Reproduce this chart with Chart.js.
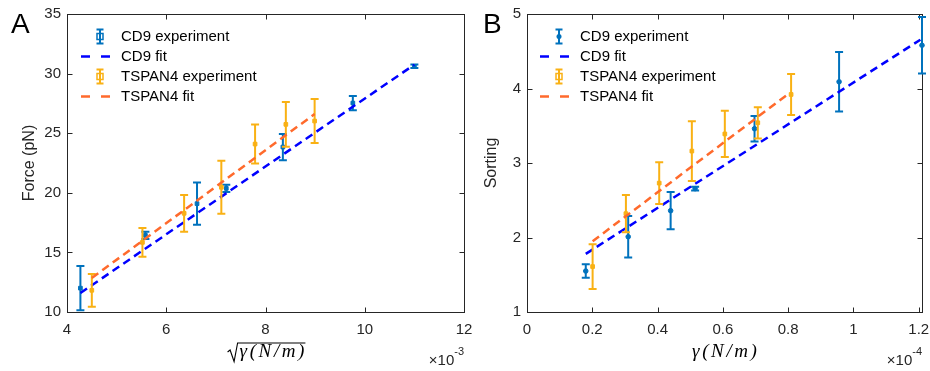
<!DOCTYPE html>
<html>
<head>
<meta charset="utf-8">
<script src="https://cdn.jsdelivr.net/npm/chart.js@4.4.0/dist/chart.umd.min.js"></script>
<style>
  html, body { margin: 0; padding: 0; background: #fff; }
  #wrap { position: relative; width: 930px; height: 371px; overflow: hidden; }
  canvas { position: absolute; top: 0; }
  #chartA { left: 0; }
  #chartB { left: 465px; }
  .tag { position: absolute; font: 28px "Liberation Sans", Arial, sans-serif; line-height: 28px; color: #000; }
</style>
</head>
<body>
<div id="wrap">
  <canvas id="chartA" width="480" height="371"></canvas>
  <canvas id="chartB" width="465" height="371"></canvas>
  <div class="tag" style="left:11px;top:10px">A</div>
  <div class="tag" style="left:483px;top:10px">B</div>
</div>
<script>
// --- Panel A: force vs sqrt(gamma), x in units of 1e-3 ---
const forceXTicks = [4, 6, 8, 10, 12];
const forceYTicks = [10, 15, 20, 25, 30, 35];
const cd9ForceX = [4.27, 5.58, 6.62, 7.21, 8.35, 9.76, 11.0];
const cd9ForceY = [12.0, 16.43, 19.09, 20.37, 23.84, 27.53, 30.61];
const cd9ForceErr = [1.85, 0.3, 1.77, 0.3, 1.1, 0.6, 0.15];
const tspanForceX = [4.50, 5.52, 6.36, 7.11, 7.79, 8.41, 8.99];
const tspanForceY = [11.82, 15.84, 18.28, 20.46, 24.09, 25.74, 26.02];
const tspanForceErr = [1.37, 1.2, 1.54, 2.22, 1.64, 1.87, 1.85];
const cd9ForceFitX = [4.27, 11.0];
const cd9ForceFitY = [11.59, 30.75];
const tspanForceFitX = [4.50, 8.99];
const tspanForceFitY = [12.85, 26.61];

// --- Panel B: sorting vs gamma, x in units of 1e-4 ---
const sortXTicks = [0, 0.2, 0.4, 0.6, 0.8, 1, 1.2];
const sortYTicks = [1, 2, 3, 4, 5];
const cd9SortX = [0.180, 0.310, 0.440, 0.515, 0.697, 0.956, 1.21];
const cd9SortY = [1.55, 2.01, 2.36, 2.656, 3.46, 4.09, 4.58];
const cd9SortErr = [0.09, 0.28, 0.25, 0.025, 0.17, 0.40, 0.38];
const tspanSortX = [0.201, 0.303, 0.405, 0.505, 0.606, 0.707, 0.809];
const tspanSortY = [1.61, 2.32, 2.73, 3.16, 3.39, 3.54, 3.92];
const tspanSortErr = [0.30, 0.25, 0.28, 0.40, 0.31, 0.21, 0.275];
const cd9SortFitX = [0.18, 1.205];
const cd9SortFitY = [1.78, 4.655];
const tspanSortFitX = [0.201, 0.80];
const tspanSortFitY = [1.95, 3.926];

const legendLabels = ['CD9 experiment', 'CD9 fit', 'TSPAN4 experiment', 'TSPAN4 fit'];

const CD9_BLUE = '#0072BD';
const TSPAN_GOLD = '#F9B114';
const FIT_BLUE = '#0000FF';
const FIT_ORANGE = '#FF6A2C';
const AXIS_GREY = '#262626';
const SANS = '"Liberation Sans", Arial, sans-serif';

const pts = (xs, ys) => xs.map((x, i) => ({ x, y: ys[i] }));

// error bars, box with inward ticks, legend and the latex-ish x title
const matlabLook = {
    id: 'matlabLook',
    beforeDatasetsDraw(chart) {
        // box + inward ticks on all four sides, under the data like the original
        const { ctx, chartArea: a } = chart;
        const xs = chart.scales.x, ys = chart.scales.y;
        ctx.save();
        ctx.strokeStyle = AXIS_GREY;
        ctx.lineWidth = 1;
        const L = Math.round(a.left) + 0.5, R = Math.round(a.right) + 0.5;
        const T = Math.round(a.top) + 0.5, B = Math.round(a.bottom) + 0.5;
        ctx.strokeRect(L, T, R - L, B - T);
        ctx.beginPath();
        xs.ticks.forEach(t => {
            const px = Math.round(xs.getPixelForValue(t.value)) + 0.5;
            ctx.moveTo(px, B); ctx.lineTo(px, B - 5);
            ctx.moveTo(px, T); ctx.lineTo(px, T + 5);
        });
        ys.ticks.forEach(t => {
            const py = Math.round(ys.getPixelForValue(t.value)) + 0.5;
            ctx.moveTo(L, py); ctx.lineTo(L + 5, py);
            ctx.moveTo(R, py); ctx.lineTo(R - 5, py);
        });
        ctx.stroke();
        ctx.restore();
    },
    afterDatasetDraw(chart, args) {
        const ds = chart.data.datasets[args.index];
        if (!ds.errors) return;
        const { ctx } = chart;
        const xs = chart.scales.x, ys = chart.scales.y;
        ctx.save();
        ctx.strokeStyle = ds.borderColor;
        ctx.lineWidth = 2;
        ds.data.forEach((p, i) => {
            const px = xs.getPixelForValue(p.x);
            const top = ys.getPixelForValue(p.y + ds.errors[i]);
            const bot = ys.getPixelForValue(p.y - ds.errors[i]);
            ctx.beginPath();
            ctx.moveTo(px, top); ctx.lineTo(px, bot);
            ctx.moveTo(px - 4, top); ctx.lineTo(px + 4, top);
            ctx.moveTo(px - 4, bot); ctx.lineTo(px + 4, bot);
            ctx.stroke();
        });
        ctx.restore();
    },
    afterDraw(chart, args, opts) {
        const { ctx, chartArea: a } = chart;
        ctx.save();

        // legend (no box)
        ctx.font = '15px ' + SANS;
        ctx.textBaseline = 'middle';
        legendLabels.forEach((label, i) => {
            const ds = chart.data.datasets[i];
            const y = a.top + 22.5 + i * 20;
            const cx = a.left + opts.legendIcon;
            ctx.strokeStyle = ds.borderColor;
            if (ds.errors) {
                ctx.lineWidth = 2;
                ctx.setLineDash([]);
                ctx.beginPath();
                ctx.moveTo(cx, y - 7); ctx.lineTo(cx, y + 7);
                ctx.moveTo(cx - 3.5, y - 7); ctx.lineTo(cx + 3.5, y - 7);
                ctx.moveTo(cx - 3.5, y + 7); ctx.lineTo(cx + 3.5, y + 7);
                ctx.stroke();
                ctx.lineWidth = 1.5;
                if (ds.pointStyle === 'circle') {
                    ctx.fillStyle = ds.borderColor;
                    ctx.beginPath();
                    ctx.arc(cx, y, 2.5, 0, Math.PI * 2);
                    ctx.fill();
                } else {
                    ctx.strokeRect(cx - 3, y - 3, 6, 6);
                }
            } else {
                ctx.lineWidth = 2.5;
                ctx.setLineDash([9, 11]);
                ctx.beginPath();
                ctx.moveTo(cx - 19, y); ctx.lineTo(cx + 10, y);
                ctx.stroke();
                ctx.setLineDash([]);
            }
            ctx.fillStyle = '#000';
            ctx.textAlign = 'left';
            ctx.fillText(label, a.left + opts.legendText, y);
        });

        // x axis title, spaced out like the latex rendering
        const cx = (a.left + a.right) / 2;
        const base = 357;
        ctx.font = 'italic 19px "Liberation Serif", "Times New Roman", serif';
        ctx.fillStyle = '#000';
        ctx.textBaseline = 'alphabetic';
        const chars = Array.from(opts.xTitle);
        const widths = chars.map(c => ctx.measureText(c).width);
        const gap = 2.6;
        const textW = widths.reduce((s, w) => s + w, 0) + gap * (chars.length - 1);
        const rootW = opts.root ? 11 : 0;
        let x = cx - (textW + rootW) / 2;
        if (opts.root) {
            ctx.strokeStyle = '#000';
            ctx.lineWidth = 1.1;
            ctx.beginPath();
            ctx.moveTo(x, base - 5);
            ctx.lineTo(x + 2.5, base - 7);
            ctx.lineTo(x + 6.5, base + 4.5);
            ctx.lineTo(x + 10, base - 14);
            ctx.lineTo(x + rootW + textW + 2, base - 14);
            ctx.stroke();
            x += rootW + 1;
        }
        chars.forEach((c, i) => {
            ctx.fillText(c, x, base);
            x += widths[i] + gap;
        });

        // exponent marker
        ctx.font = '11px ' + SANS;
        ctx.textAlign = 'right';
        ctx.fillStyle = AXIS_GREY;
        const supW = ctx.measureText(opts.exponent).width;
        ctx.fillText(opts.exponent, a.right, 355);
        ctx.font = '15px ' + SANS;
        ctx.fillText('\u00d710', a.right - supW, 365);

        ctx.restore();
    }
};

// stop Chart.js from reserving room for overhanging tick labels
const noOverhang = s => {
    s.paddingLeft = 0; s.paddingRight = 0;
    s.paddingTop = 0; s.paddingBottom = 0;
};

function makePanel(canvasId, p) {
    const expSet = (label, xs, ys, errs, color, style, order) => ({
        label, data: pts(xs, ys), errors: errs,
        borderColor: color, backgroundColor: color,
        pointStyle: style, pointRadius: style === 'circle' ? 2.3 : 2.6,
        pointBorderWidth: 1, showLine: false, clip: false, order
    });
    const fitSet = (label, xs, ys, color, order) => ({
        label, data: pts(xs, ys), borderColor: color, backgroundColor: color,
        showLine: true, pointRadius: 0, borderWidth: 2.5, borderDash: [8, 5],
        order
    });
    return new Chart(document.getElementById(canvasId), {
        type: 'scatter',
        data: {
            datasets: [
                expSet(legendLabels[0], p.cd9X, p.cd9Y, p.cd9Err, CD9_BLUE, p.cd9Marker, 4),
                fitSet(legendLabels[1], p.cd9FitX, p.cd9FitY, FIT_BLUE, 3),
                expSet(legendLabels[2], p.tsX, p.tsY, p.tsErr, TSPAN_GOLD, 'rect', 2),
                fitSet(legendLabels[3], p.tsFitX, p.tsFitY, FIT_ORANGE, 1)
            ]
        },
        options: {
            responsive: false,
            animation: false,
            events: [],
            layout: { padding: { left: 0, top: 14, right: p.padRight, bottom: 0 } },
            plugins: {
                legend: { display: false },
                tooltip: { enabled: false },
                matlabLook: p.look
            },
            scales: {
                x: {
                    type: 'linear', min: p.xTicks[0], max: p.xMax,
                    grid: { display: false, drawTicks: false },
                    border: { display: false },
                    afterBuildTicks: s => { s.ticks = p.xTicks.map(v => ({ value: v })); },
                    afterFit: s => { s.height = 59; noOverhang(s); },
                    ticks: {
                        autoSkip: false, maxRotation: 0, padding: 9,
                        color: AXIS_GREY, font: { family: SANS, size: 15 },
                        callback: v => String(+v.toFixed(1))
                    }
                },
                y: {
                    type: 'linear', min: p.yTicks[0], max: p.yTicks[p.yTicks.length - 1],
                    grid: { display: false, drawTicks: false },
                    border: { display: false },
                    afterBuildTicks: s => { s.ticks = p.yTicks.map(v => ({ value: v })); },
                    afterFit: s => { s.width = p.yWidth; noOverhang(s); },
                    title: {
                        display: true, text: p.yTitle, color: AXIS_GREY,
                        font: { family: SANS, size: 16 },
                        padding: { top: p.titlePad, bottom: 0 }
                    },
                    ticks: {
                        autoSkip: false, padding: 6,
                        color: AXIS_GREY, font: { family: SANS, size: 15 },
                        callback: v => String(v)
                    }
                }
            }
        },
        plugins: [matlabLook]
    });
}

makePanel('chartA', {
    cd9X: cd9ForceX, cd9Y: cd9ForceY, cd9Err: cd9ForceErr, cd9Marker: 'rect',
    tsX: tspanForceX, tsY: tspanForceY, tsErr: tspanForceErr,
    cd9FitX: cd9ForceFitX, cd9FitY: cd9ForceFitY,
    tsFitX: tspanForceFitX, tsFitY: tspanForceFitY,
    xTicks: forceXTicks, xMax: 12, yTicks: forceYTicks,
    yTitle: 'Force (pN)', yWidth: 67, titlePad: 20, padRight: 16,
    look: { legendIcon: 33, legendText: 54, xTitle: '\u03b3(N/m)', root: true, exponent: '-3' }
});

makePanel('chartB', {
    cd9X: cd9SortX, cd9Y: cd9SortY, cd9Err: cd9SortErr, cd9Marker: 'circle',
    tsX: tspanSortX, tsY: tspanSortY, tsErr: tspanSortErr,
    cd9FitX: cd9SortFitX, cd9FitY: cd9SortFitY,
    tsFitX: tspanSortFitX, tsFitY: tspanSortFitY,
    xTicks: sortXTicks, xMax: 1.21, yTicks: sortYTicks,
    yTitle: 'Sorting', yWidth: 62, titlePad: 17, padRight: 8,
    look: { legendIcon: 32, legendText: 53, xTitle: '\u03b3(N/m)', root: false, exponent: '-4' }
});
</script>
</body>
</html>
